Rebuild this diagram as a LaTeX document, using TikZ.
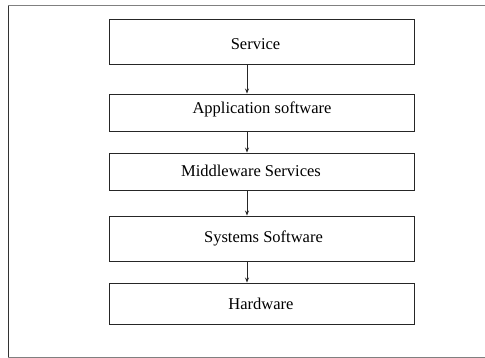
\documentclass[tikz,border=0pt]{standalone}
\usepackage{fontspec}
\setmainfont{Liberation Serif}
\usetikzlibrary{arrows.meta}
\begin{document}
\begin{tikzpicture}[x=1pt,y=-1pt,
  layer/.style={draw=black!85,line width=0.9pt,minimum width=305pt,inner sep=0pt},
  lbl/.style={font=\fontsize{16.5}{18}\selectfont},
  conn/.style={draw=black!85,line width=0.8pt,-{Stealth[length=5pt,width=4pt]}}]
\useasboundingbox (0,0) rectangle (485,358);
\draw[gray,line width=1.6pt] (8,5.7) -- (486,5.7);
\draw[black!80,line width=1pt] (8,5.7) -- (8,357.3);
\draw[gray,line width=1.6pt] (8,357.3) -- (486,357.3);
\node[layer,minimum height=45pt] (s) at (261.5,41.5) {};
\node[layer,minimum height=37pt] (a) at (261.5,112.5) {};
\node[layer,minimum height=37pt] (m) at (261.5,171.5) {};
\node[layer,minimum height=45pt] (y) at (261.5,238.5) {};
\node[layer,minimum height=41pt] (h) at (261.5,303.5) {};
\node[lbl] at (255.5,44) {Service};
\node[lbl] at (262,109) {Application software};
\node[lbl] at (251,171) {Middleware Services};
\node[lbl] at (263.5,238) {Systems Software};
\node[lbl] at (261,304) {Hardware};
\draw[conn] (s.south -| 247,0) -- (a.north -| 247,0);
\draw[conn] (a.south -| 247,0) -- (m.north -| 247,0);
\draw[conn] (m.south -| 247,0) -- (y.north -| 247,0);
\draw[conn] (y.south -| 247,0) -- (h.north -| 247,0);
\end{tikzpicture}
\end{document}
